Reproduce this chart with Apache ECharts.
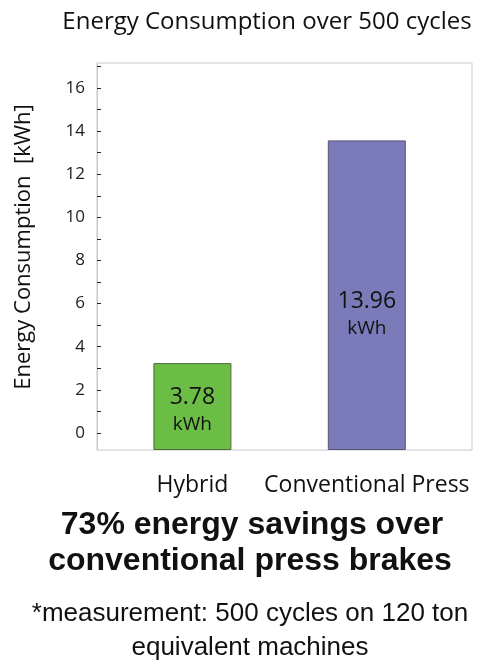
<!DOCTYPE html>
<html>
<head>
<meta charset="utf-8">
<script src="https://cdn.jsdelivr.net/npm/echarts@6/dist/echarts.min.js"></script>
<style>html,body{margin:0;padding:0;background:#fff;}#c{width:478px;height:664px;}</style>
</head>
<body>
<div id="c"></div>
<script>
const categories = ['Hybrid', 'Conventional Press'];
const barTops = [3.24, 13.57];           // bar tops read on the axis scale
const barLabels = ['3.78', '13.96'];     // printed values
const unit = 'kWh';
const yTickValues = [0,1,2,3,4,5,6,7,8,9,10,11,12,13,14,15,16,17];
const yLabelValues = [0,2,4,6,8,10,12,14,16];
const yMin = -0.79, yMax = 17.16;
const titleText = 'Energy Consumption over 500 cycles';
const yName = 'Energy Consumption  [kWh]';
const headline = ['73% energy savings over', 'conventional press brakes'];
const footnote = ['*measurement: 500 cycles on 120 ton', 'equivalent machines'];
const barColors = ['#6bbd45', '#7b7bb9'];
const barBorders = ['#4d6a3a', '#55557a'];

const font = 'Open Sans';
const chart = echarts.init(document.getElementById('c'));
chart.setOption({
  animation: false,
  backgroundColor: '#fff',
  graphic: [
    { type: 'text', x: 267, y: 22,
      style: { text: titleText, fontFamily: font, fontSize: 24, fill: '#111', align: 'center', verticalAlign: 'middle' } },
    { type: 'text', x: 24, y: 247, rotation: Math.PI / 2,
      style: { text: yName, fontFamily: font, fontSize: 22, fill: '#111', align: 'center', verticalAlign: 'middle' } },
    { type: 'text', x: 252, y: 525,
      style: { text: headline[0], fontFamily: 'Liberation Sans', fontWeight: 'bold', fontSize: 32, fill: '#111', align: 'center', verticalAlign: 'middle' } },
    { type: 'text', x: 250, y: 561,
      style: { text: headline[1], fontFamily: 'Liberation Sans', fontWeight: 'bold', fontSize: 32, fill: '#111', align: 'center', verticalAlign: 'middle' } },
    { type: 'text', x: 250, y: 614,
      style: { text: footnote[0], fontFamily: 'Liberation Sans', fontSize: 26, fill: '#111', align: 'center', verticalAlign: 'middle' } },
    { type: 'text', x: 250, y: 648,
      style: { text: footnote[1], fontFamily: 'Liberation Sans', fontSize: 26, fill: '#111', align: 'center', verticalAlign: 'middle' } }
  ],
  grid: { left: 97, top: 63, width: 375, height: 387, show: true, borderColor: '#c8c8c8', borderWidth: 1 },
  xAxis: {
    type: 'value', min: -0.547, max: 1.603,
    splitLine: { show: false }, axisLine: { show: false, onZero: false }, axisTick: { show: false },
    axisLabel: {
      customValues: [0, 1], margin: 24,
      formatter: v => categories[Math.round(v)],
      fontFamily: font, fontSize: 23, color: '#111'
    }
  },
  yAxis: [{
    type: 'value', min: yMin, max: yMax,
    splitLine: { show: false },
    axisLine: { show: true, onZero: false, lineStyle: { color: '#c8c8c8' } },
    axisTick: { show: true, inside: true, length: 4, customValues: yTickValues, lineStyle: { color: '#222' } },
    axisLabel: { customValues: yLabelValues, margin: 12, fontFamily: font, fontSize: 17, color: '#222' }
  }, {
    type: 'value', min: 0, max: yMax - yMin, show: false
  }],
  series: [{
    type: 'bar', yAxisIndex: 1, barWidth: 78,
    data: barTops.map((v, i) => ({
      value: [i, v - yMin],
      itemStyle: { color: barColors[i], borderColor: barBorders[i], borderWidth: 1 },
      label: { offset: [0, i === 0 ? 3 : 18] }
    })),
    label: {
      show: true, position: 'inside',
      formatter: p => '{v|' + barLabels[p.dataIndex] + '}\n{u|' + unit + '}',
      rich: {
        v: { fontFamily: font, fontSize: 23, color: '#111', lineHeight: 30 },
        u: { fontFamily: font, fontSize: 19, color: '#111', lineHeight: 24 }
      }
    }
  }]
});
</script>
</body>
</html>
